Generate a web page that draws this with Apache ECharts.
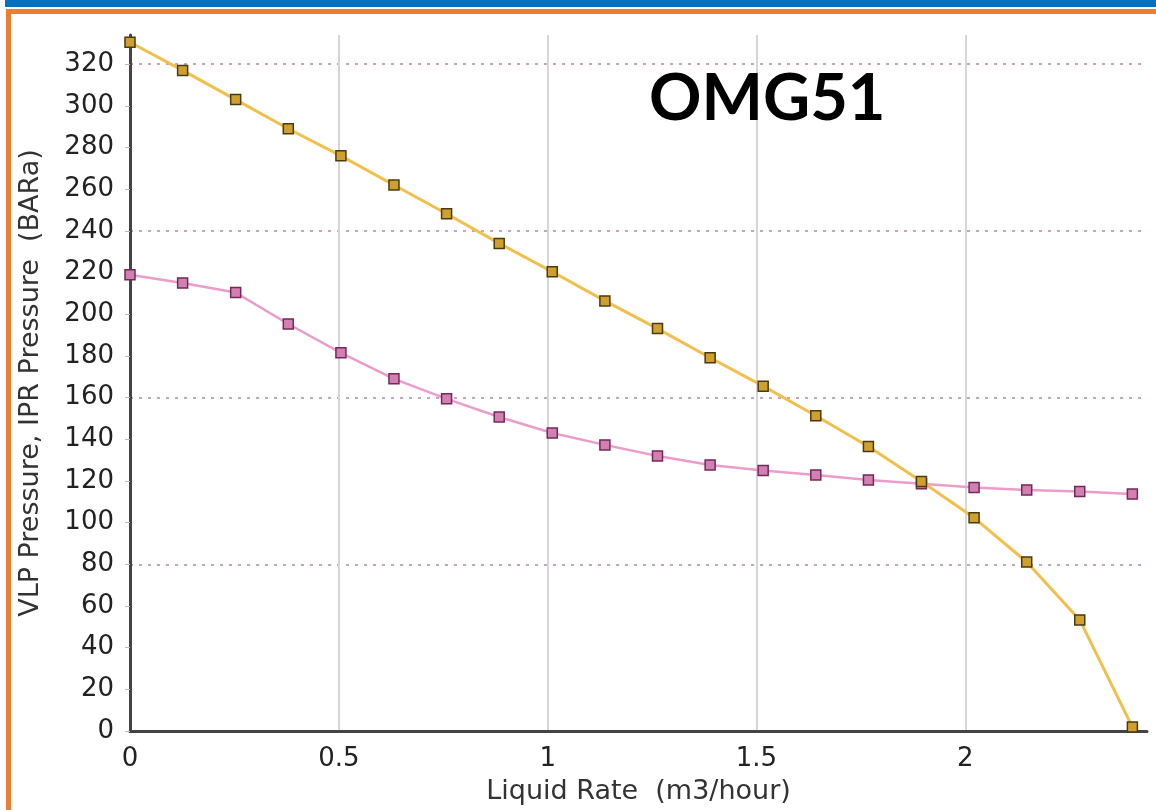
<!DOCTYPE html>
<html>
<head>
<meta charset="utf-8">
<script src="https://cdn.jsdelivr.net/npm/echarts@6/dist/echarts.min.js"></script>
<style>
  html, body { margin: 0; padding: 0; background: #fff; }
  #main { width: 1156px; height: 810px; }
</style>
</head>
<body>
<div id="main"></div>
<script>
// liquid rate (m3/hour)
var rate = [0, 0.126, 0.253, 0.379, 0.505, 0.632, 0.758, 0.884, 1.011, 1.137,
            1.263, 1.389, 1.516, 1.642, 1.768, 1.895, 2.021, 2.147, 2.274, 2.4];
// VLP pressure (BARa)
var vlp = [330.5, 317, 303, 289, 276, 262, 248.2, 234, 220.4, 206.4,
           193.1, 179.1, 165.5, 151.3, 136.5, 119.7, 102.3, 81.1, 53.3, 1.9];
// IPR pressure (BARa)
var ipr = [219, 215, 210.4, 195.3, 181.5, 169, 159.4, 150.7, 143, 137.3,
           132, 127.7, 125, 122.9, 120.5, 118.6, 116.8, 115.7, 114.9, 113.7];

var chartTitle = 'OMG51';
var xName = 'Liquid Rate  (m3/hour)';
var yName = 'VLP Pressure, IPR Pressure  (BARa)';

function pairs(xs, ys) {
    return xs.map(function (x, i) { return [x, ys[i]]; });
}

var myChart = echarts.init(document.getElementById('main'));
var font = 'DejaVu Sans';

var option = {
    animation: false,
    backgroundColor: '#fff',
    grid: { left: 130, right: 9, top: 35, bottom: 79 },
    graphic: [
        { type: 'rect', shape: { x: 5, y: 0, width: 1151, height: 7 }, style: { fill: '#0070c0' } },
        { type: 'rect', shape: { x: 6, y: 9, width: 1150, height: 5 }, style: { fill: '#ed7d31' } },
        { type: 'rect', shape: { x: 6, y: 9, width: 5, height: 801 }, style: { fill: '#ed7d31' } },
        {
            type: 'text', left: 649, top: 67, z: 10,
            style: { text: chartTitle, fontFamily: 'Lato', fontWeight: 'bold', fontSize: 65, fill: '#000' }
        }
    ],
    xAxis: {
        type: 'value',
        min: 0,
        max: 2.435,
        interval: 0.5,
        name: xName,
        nameLocation: 'middle',
        nameGap: 47,
        nameTextStyle: { fontFamily: font, fontSize: 27, color: '#333' },
        axisLine: { lineStyle: { color: '#444', width: 3 } },
        axisTick: { show: false },
        axisLabel: { fontFamily: font, fontSize: 26, color: '#222', margin: 15, showMaxLabel: false },
        splitLine: { show: true, showMinLine: false, showMaxLine: false, lineStyle: { color: '#d6d6d6', width: 2 } }
    },
    yAxis: [{
        type: 'value',
        min: 0,
        max: 334,
        interval: 20,
        name: yName,
        nameLocation: 'middle',
        nameGap: 86,
        nameTextStyle: { fontFamily: font, fontSize: 27, color: '#333' },
        axisLine: { show: true, lineStyle: { color: '#444', width: 3 } },
        axisTick: { show: true, length: 5, lineStyle: { color: '#bbb' } },
        axisLabel: { fontFamily: font, fontSize: 26, color: '#222', margin: 16, showMaxLabel: false },
        splitLine: { show: false }
    }, {
        // dotted guide lines every 80
        type: 'value',
        min: 0,
        max: 334,
        interval: 80,
        position: 'left',
        axisLine: { show: false },
        axisTick: { show: false },
        axisLabel: { show: false },
        splitLine: { show: true, showMinLine: false, showMaxLine: false, lineStyle: { color: '#c8a2c8', width: 2, type: [3, 6] } }
    }],
    series: [
        {
            name: 'VLP',
            type: 'line',
            data: pairs(rate, vlp),
            symbol: 'rect',
            symbolSize: 10,
            z: 3,
            lineStyle: { color: '#f2c04a', width: 3 },
            itemStyle: { color: '#cfa02e', borderColor: '#4a3a12', borderWidth: 1.5 }
        },
        {
            name: 'IPR',
            type: 'line',
            data: pairs(rate, ipr),
            symbol: 'rect',
            symbolSize: 10,
            z: 2,
            lineStyle: { color: '#ec9ccb', width: 2.5 },
            itemStyle: { color: '#d27fb2', borderColor: '#74285a', borderWidth: 1.5 }
        }
    ]
};
myChart.setOption(option);
</script>
</body>
</html>
